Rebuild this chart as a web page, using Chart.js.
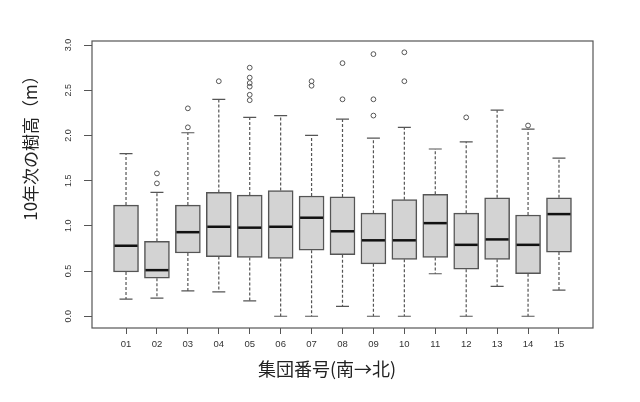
<!DOCTYPE html>
<html>
<head>
<meta charset="utf-8">
<script src="https://cdn.jsdelivr.net/npm/chart.js@4.4.1/dist/chart.umd.min.js"></script>
<style>
  html, body { margin: 0; padding: 0; background: #fff; }
  #wrap { width: 640px; height: 402px; }
</style>
</head>
<body>
<div id="wrap"><canvas id="chart" width="640" height="402"></canvas></div>
<script>
// boxplot stats (m)
const groups = ['01','02','03','04','05','06','07','08','09','10','11','12','13','14','15'];
const lowerWhisker = [0.19, 0.20, 0.28, 0.27, 0.17, 0.00, 0.00, 0.11, 0.00, 0.00, 0.47, 0.00, 0.33, 0.00, 0.29];
const q1 =           [0.49, 0.42, 0.70, 0.66, 0.65, 0.64, 0.73, 0.68, 0.58, 0.63, 0.65, 0.52, 0.63, 0.47, 0.71];
const median =       [0.78, 0.51, 0.93, 0.99, 0.98, 0.99, 1.09, 0.94, 0.84, 0.84, 1.03, 0.79, 0.85, 0.79, 1.13];
const q3 =           [1.23, 0.83, 1.23, 1.37, 1.34, 1.39, 1.33, 1.32, 1.14, 1.29, 1.35, 1.14, 1.31, 1.12, 1.31];
const upperWhisker = [1.80, 1.37, 2.03, 2.40, 2.20, 2.22, 2.00, 2.18, 1.97, 2.09, 1.85, 1.93, 2.28, 2.07, 1.75];
const outliers = [
    [],
    [1.47, 1.58],
    [2.09, 2.30],
    [2.60],
    [2.39, 2.45, 2.54, 2.58, 2.64, 2.75],
    [],
    [2.55, 2.60],
    [2.40, 2.80],
    [2.22, 2.40, 2.90],
    [2.60, 2.92],
    [],
    [2.20],
    [],
    [2.11],
    []
];
const yTicks = [0, 0.5, 1.0, 1.5, 2.0, 2.5, 3.0];

const yTitle = '10年次の樹高（m）';
const xTitle = '集団番号(南→北)';

const boxData = groups.map((g, i) => ({ x: i + 1, y: [q1[i], q3[i]] }));
const outlierData = [];
outliers.forEach((list, i) => {
    list.forEach(v => outlierData.push({ x: i + 1, y: v }));
});

const lineColor = '#555555';

// whiskers, caps, medians, frame and the two titles
const boxplotExtras = {
    id: 'boxplotExtras',
    beforeDatasetsDraw(chart) {
        const ctx = chart.ctx;
        const xs = chart.scales.x, ys = chart.scales.y;
        ctx.save();
        ctx.strokeStyle = lineColor;
        ctx.lineWidth = 1.2;
        groups.forEach((g, i) => {
            const x = xs.getPixelForValue(i + 1);
            ctx.setLineDash([3, 2]);
            ctx.beginPath();
            ctx.moveTo(x, ys.getPixelForValue(q3[i]));
            ctx.lineTo(x, ys.getPixelForValue(upperWhisker[i]));
            ctx.moveTo(x, ys.getPixelForValue(q1[i]));
            ctx.lineTo(x, ys.getPixelForValue(lowerWhisker[i]));
            ctx.stroke();
            ctx.setLineDash([]);
            const capL = xs.getPixelForValue(i + 1 - 0.21);
            const capR = xs.getPixelForValue(i + 1 + 0.21);
            ctx.beginPath();
            ctx.moveTo(capL, ys.getPixelForValue(upperWhisker[i]));
            ctx.lineTo(capR, ys.getPixelForValue(upperWhisker[i]));
            ctx.moveTo(capL, ys.getPixelForValue(lowerWhisker[i]));
            ctx.lineTo(capR, ys.getPixelForValue(lowerWhisker[i]));
            ctx.stroke();
        });
        ctx.restore();
    },
    afterDatasetsDraw(chart) {
        const ctx = chart.ctx;
        const xs = chart.scales.x, ys = chart.scales.y;
        const area = chart.chartArea;
        ctx.save();
        ctx.strokeStyle = '#111';
        ctx.lineWidth = 2.5;
        const bars = chart.getDatasetMeta(0).data;
        groups.forEach((g, i) => {
            const half = bars[i].width / 2;
            const x = xs.getPixelForValue(i + 1);
            const y = ys.getPixelForValue(median[i]);
            ctx.beginPath();
            ctx.moveTo(x - half + 1, y);
            ctx.lineTo(x + half - 1, y);
            ctx.stroke();
        });
        // plot frame
        ctx.strokeStyle = lineColor;
        ctx.lineWidth = 1.2;
        ctx.strokeRect(area.left, area.top, area.right - area.left, area.bottom - area.top);
        // titles
        ctx.fillStyle = '#222';
        ctx.textAlign = 'center';
        ctx.textBaseline = 'middle';
        ctx.font = '18px "Noto Sans CJK JP"';
        ctx.fillText(xTitle, 327, 369);
        ctx.font = '17px "Noto Sans CJK JP"';
        ctx.translate(31, 144);
        ctx.rotate(-Math.PI / 2);
        ctx.fillText(yTitle, 0, 0);
        ctx.restore();
    }
};

const ctx = document.getElementById('chart').getContext('2d');
new Chart(ctx, {
    type: 'bar',
    data: {
        datasets: [{
            label: 'box',
            data: boxData,
            backgroundColor: '#d3d3d3',
            borderColor: lineColor,
            borderWidth: 1.5,
            borderSkipped: false,
            barThickness: 25,
            order: 2
        }, {
            type: 'scatter',
            label: 'outliers',
            data: outlierData,
            pointStyle: 'circle',
            pointRadius: 2.4,
            pointBorderWidth: 1,
            borderColor: lineColor,
            backgroundColor: 'rgba(0,0,0,0)',
            order: 1
        }]
    },
    options: {
        responsive: false,
        animation: false,
        devicePixelRatio: 1,
        layout: { padding: { left: 0, top: 41, right: 47, bottom: 0 } },
        plugins: {
            legend: { display: false },
            tooltip: { enabled: false }
        },
        scales: {
            x: {
                type: 'linear',
                min: -0.1,
                max: 16.1,
                offset: false,
                afterFit: s => { s.height = 74; },
                afterBuildTicks: s => {
                    s.ticks = groups.map((g, i) => ({ value: i + 1 }));
                },
                border: { display: false },
                grid: { offset: false, drawOnChartArea: false, drawTicks: true, tickLength: 6, color: lineColor, lineWidth: 1 },
                ticks: {
                    autoSkip: false,
                    maxRotation: 0,
                    padding: 5,
                    color: '#333',
                    font: { family: 'Liberation Sans', size: 9.5 },
                    callback: v => groups[v - 1]
                }
            },
            y: {
                min: -0.13,
                max: 3.045,
                afterFit: s => { s.width = 92; },
                afterBuildTicks: s => {
                    s.ticks = yTicks.map(v => ({ value: v }));
                },
                border: { display: false },
                grid: { drawOnChartArea: false, drawTicks: true, tickLength: 8, color: lineColor, lineWidth: 1 },
                ticks: {
                    minRotation: 90,
                    maxRotation: 90,
                    crossAlign: 'center',
                    padding: 9,
                    color: '#333',
                    font: { family: 'Liberation Sans', size: 9 },
                    callback: v => v.toFixed(1)
                }
            }
        }
    },
    plugins: [boxplotExtras]
});
</script>
</body>
</html>
